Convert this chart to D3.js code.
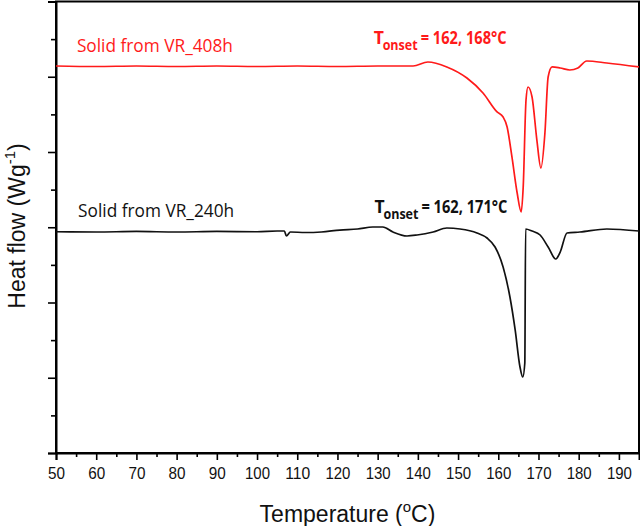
<!DOCTYPE html>
<html>
<head>
<meta charset="utf-8">
<script src="https://cdn.jsdelivr.net/npm/d3@7"></script>
<style>
  html, body { margin: 0; padding: 0; background: #fff; }
  svg { display: block; }
</style>
</head>
<body>
<svg id="chart" width="640" height="526"></svg>
<script>
// ---- data ----
const xTicks = [50, 60, 70, 80, 90, 100, 110, 120, 130, 140, 150, 160, 170, 180, 190];

const redTemp = [50, 60, 70, 80, 90, 100, 110, 120, 130, 138.8, 142.5, 147.2, 152.2, 156.2, 159.7, 161.2, 162.2, 163.4, 164.7, 165.7, 166.2, 166.9, 167.4, 168.4, 169.6, 170.6, 171.6, 172.4, 173.4, 175.4, 177.8, 179.8, 182.0, 187.0, 195];
const redFlow = [5.143, 5.136, 5.143, 5.136, 5.143, 5.136, 5.143, 5.136, 5.143, 5.143, 5.196, 5.130, 4.983, 4.784, 4.532, 4.465, 4.332, 3.934, 3.455, 3.203, 3.535, 4.691, 4.864, 4.731, 4.159, 3.787, 4.252, 4.997, 5.130, 5.116, 5.090, 5.116, 5.209, 5.183, 5.130];

const blackTemp = [50, 60, 70, 80, 90, 100, 105, 106.8, 107.3, 108.3, 112, 116, 120.6, 125, 128.8, 131.3, 133.8, 137.3, 139.8, 143.8, 147.2, 150.5, 154.7, 157.2, 159.2, 161.2, 162.9, 164.2, 165.4, 166.1, 166.6, 166.8, 168.4, 170.4, 172.4, 174.3, 175.4, 177.1, 180.3, 187.0, 195];
const blackFlow = [2.940, 2.937, 2.944, 2.937, 2.944, 2.940, 2.950, 2.950, 2.884, 2.937, 2.930, 2.937, 2.963, 2.977, 3.003, 3.003, 2.937, 2.884, 2.897, 2.937, 2.990, 2.977, 2.924, 2.857, 2.738, 2.472, 2.073, 1.635, 1.143, 1.010, 1.196, 2.977, 2.950, 2.897, 2.738, 2.578, 2.671, 2.924, 2.937, 2.977, 2.950];

const seriesNames = ["Solid from VR_408h", "Solid from VR_240h"];
const onsetLabels = ["= 162, 168°C", "= 162, 171°C"];
const seriesColors = ["#ff1a1a", "#111111"];

// ---- layout ----
const svg = d3.select("#chart");
const pL = 56, pR = 639, pT = 1.5, pB = 453;

const x = d3.scaleLinear().domain([50, 195]).range([pL, pR]);
const y = d3.scaleLinear().domain([0, 6]).range([pB, pT]);

// frame
svg.append("rect")
  .attr("x", pL).attr("y", pT)
  .attr("width", pR - pL).attr("height", pB - pT)
  .attr("fill", "none").attr("stroke", "#000").attr("stroke-width", 2);

// x axis: major + minor ticks
const xMinor = d3.range(55, 195, 10);
svg.append("g")
  .attr("transform", `translate(0,${pB})`)
  .call(d3.axisBottom(x).tickValues(xMinor).tickSize(4).tickFormat(""))
  .call(g => g.select(".domain").remove())
  .call(g => g.selectAll("line").attr("stroke-width", 1.6));

const xAx = svg.append("g")
  .attr("transform", `translate(0,${pB})`)
  .call(d3.axisBottom(x).tickValues(xTicks).tickSize(7).tickPadding(7).tickFormat(d3.format("d")));
xAx.select(".domain").attr("stroke-width", 2);
xAx.selectAll("line").attr("stroke-width", 1.6);
xAx.selectAll("text")
  .attr("font-family", "'Liberation Sans', Arial, sans-serif")
  .attr("font-size", 16.5).attr("fill", "#111")
  .attr("textLength", d => d >= 100 ? 25 : 17).attr("lengthAdjust", "spacingAndGlyphs");

// y axis: major + minor ticks, no labels
const yMajor = d3.range(0, 6.01, 1);
const yMinor = d3.range(0.5, 6, 1);
svg.append("g")
  .attr("transform", `translate(${pL},0)`)
  .call(d3.axisLeft(y).tickValues(yMajor).tickSize(8).tickFormat(""))
  .call(g => g.select(".domain").attr("stroke-width", 2))
  .call(g => g.selectAll("line").attr("stroke-width", 1.6));
svg.append("g")
  .attr("transform", `translate(${pL},0)`)
  .call(d3.axisLeft(y).tickValues(yMinor).tickSize(5).tickFormat(""))
  .call(g => g.select(".domain").remove())
  .call(g => g.selectAll("line").attr("stroke-width", 1.6));

// curves
const line = d3.line()
  .x(d => x(d[0])).y(d => y(d[1]))
  .curve(d3.curveMonotoneX);

const series = [
  d3.zip(redTemp, redFlow),
  d3.zip(blackTemp, blackFlow)
];

svg.append("clipPath").attr("id", "clip")
  .append("rect").attr("x", pL).attr("y", pT).attr("width", pR - pL).attr("height", pB - pT);

svg.append("g").attr("clip-path", "url(#clip)")
  .selectAll("path").data(series).join("path")
  .attr("d", line)
  .attr("fill", "none")
  .attr("stroke", (d, i) => seriesColors[i])
  .attr("stroke-width", 1.7)
  .attr("stroke-linejoin", "round");

// series labels
const labelFont = "'Open Sans', 'Noto Sans', sans-serif";
const labelPos = [[55.2, 52], [55.5, 217]];   // [temperature, baseline px]
seriesNames.forEach((name, i) => {
  svg.append("text")
    .attr("x", x(labelPos[i][0])).attr("y", labelPos[i][1])
    .attr("font-family", labelFont).attr("font-size", 18)
    .attr("fill", seriesColors[i])
    .attr("textLength", 156).attr("lengthAdjust", "spacingAndGlyphs")
    .text(name);
});

// onset annotations
const onsetPos = [[129.0, 44], [129.2, 213]];
onsetLabels.forEach((lab, i) => {
  const g = svg.append("g")
    .attr("font-family", labelFont).attr("font-weight", "bold")
    .attr("fill", seriesColors[i]);
  const x0 = x(onsetPos[i][0]), b = onsetPos[i][1];
  g.append("text").attr("x", x0).attr("y", b).attr("font-size", 17.5).text("T");
  g.append("text").attr("x", x0 + 9).attr("y", b + 6).attr("font-size", 13.5)
    .attr("textLength", 35).attr("lengthAdjust", "spacingAndGlyphs").text("onset");
  g.append("text").attr("x", x0 + 47).attr("y", b).attr("font-size", 17)
    .attr("textLength", 86).attr("lengthAdjust", "spacingAndGlyphs").text(lab);
});

// axis titles
const titleFont = "'Liberation Sans', Arial, sans-serif";
const xt = svg.append("text")
  .attr("x", (pL + pR) / 2).attr("y", 522)
  .attr("text-anchor", "middle")
  .attr("font-family", titleFont).attr("font-size", 23).attr("fill", "#111");
xt.append("tspan").text("Temperature (");
xt.append("tspan").attr("font-size", 15).attr("dy", -10).text("o");
xt.append("tspan").attr("dy", 10).text("C)");

const yt = svg.append("text")
  .attr("transform", `translate(25,226) rotate(-90)`)
  .attr("text-anchor", "middle")
  .attr("font-family", titleFont).attr("font-size", 23).attr("fill", "#111");
yt.append("tspan").text("Heat flow (Wg");
yt.append("tspan").attr("font-size", 15).attr("dy", -10).text("-1");
yt.append("tspan").attr("dy", 10).text(")");
</script>
</body>
</html>
